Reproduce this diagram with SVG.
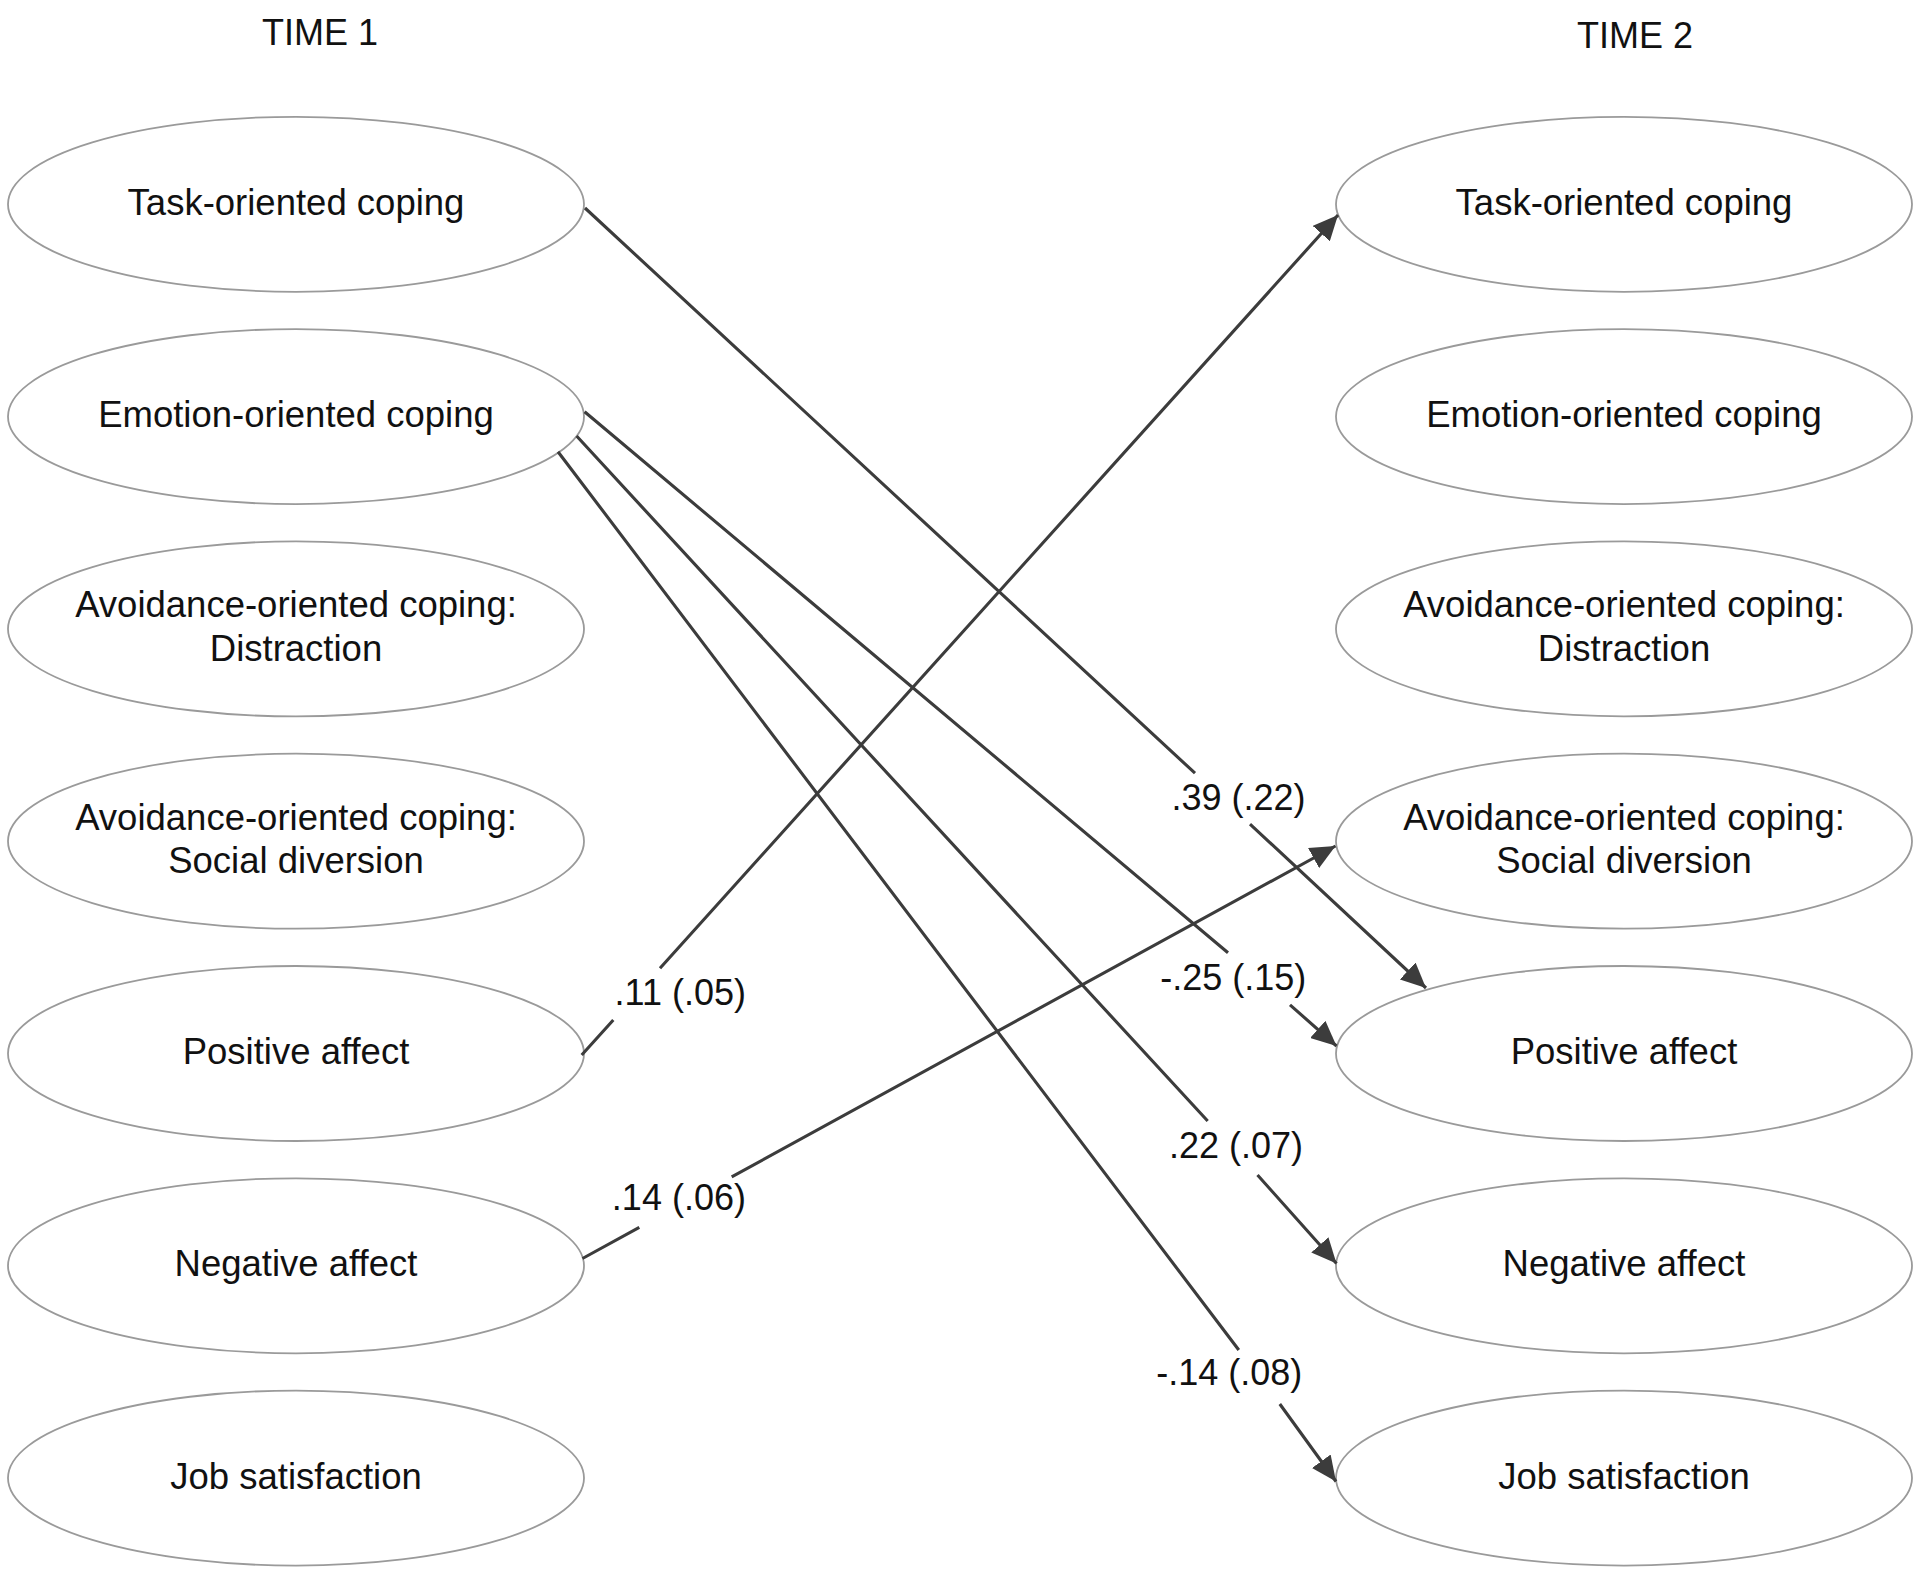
<svg xmlns="http://www.w3.org/2000/svg" width="1920" height="1574" viewBox="0 0 1920 1574">
<defs>
<style>
.node ellipse{fill:#ffffff;stroke:#9a9a9a;stroke-width:1.8}
.node text{font-family:"Liberation Sans",Arial,sans-serif;font-size:36.5px;fill:#111;text-anchor:middle}
.title{font-family:"Liberation Sans",Arial,sans-serif;font-size:36px;fill:#111;text-anchor:middle}
.edge{fill:none;stroke:#3c3c3c;stroke-width:3.1;marker-end:url(#arrow)}
.elabel{font-family:"Liberation Sans",Arial,sans-serif;font-size:36px;fill:#111;text-anchor:middle}
</style>
<marker id="arrow" markerUnits="userSpaceOnUse" viewBox="0 0 25 23" refX="25" refY="11.5" markerWidth="25" markerHeight="23" orient="auto">
<path d="M0,0 L25,11.5 L0,23 Z" fill="#3c3c3c"/>
</marker>
</defs>
<rect width="1920" height="1574" fill="#ffffff"/>
<text class="title" x="320" y="45">TIME 1</text>
<text class="title" x="1635" y="48">TIME 2</text>

<g id="t1-task" class="node"><ellipse cx="296" cy="204.3" rx="288" ry="87.5"/><text x="296" y="215">Task-oriented coping</text></g>
<g id="t1-emotion" class="node"><ellipse cx="296" cy="416.6" rx="288" ry="87.5"/><text x="296" y="427.3">Emotion-oriented coping</text></g>
<g id="t1-distraction" class="node"><ellipse cx="296" cy="628.9" rx="288" ry="87.5"/><text x="296" y="617.4">Avoidance-oriented coping:</text><text x="296" y="661">Distraction</text></g>
<g id="t1-social" class="node"><ellipse cx="296" cy="841.2" rx="288" ry="87.5"/><text x="296" y="829.7">Avoidance-oriented coping:</text><text x="296" y="873.3">Social diversion</text></g>
<g id="t1-positive" class="node"><ellipse cx="296" cy="1053.5" rx="288" ry="87.5"/><text x="296" y="1064">Positive affect</text></g>
<g id="t1-negative" class="node"><ellipse cx="296" cy="1265.8" rx="288" ry="87.5"/><text x="296" y="1276.3">Negative affect</text></g>
<g id="t1-job" class="node"><ellipse cx="296" cy="1478.1" rx="288" ry="87.5"/><text x="296" y="1488.6">Job satisfaction</text></g>

<g id="t2-task" class="node"><ellipse cx="1624" cy="204.3" rx="288" ry="87.5"/><text x="1624" y="215">Task-oriented coping</text></g>
<g id="t2-emotion" class="node"><ellipse cx="1624" cy="416.6" rx="288" ry="87.5"/><text x="1624" y="427.3">Emotion-oriented coping</text></g>
<g id="t2-distraction" class="node"><ellipse cx="1624" cy="628.9" rx="288" ry="87.5"/><text x="1624" y="617.4">Avoidance-oriented coping:</text><text x="1624" y="661">Distraction</text></g>
<g id="t2-social" class="node"><ellipse cx="1624" cy="841.2" rx="288" ry="87.5"/><text x="1624" y="829.7">Avoidance-oriented coping:</text><text x="1624" y="873.3">Social diversion</text></g>
<g id="t2-positive" class="node"><ellipse cx="1624" cy="1053.5" rx="288" ry="87.5"/><text x="1624" y="1064">Positive affect</text></g>
<g id="t2-negative" class="node"><ellipse cx="1624" cy="1265.8" rx="288" ry="87.5"/><text x="1624" y="1276.3">Negative affect</text></g>
<g id="t2-job" class="node"><ellipse cx="1624" cy="1478.1" rx="288" ry="87.5"/><text x="1624" y="1488.6">Job satisfaction</text></g>

<g id="connectors">
<path class="edge" d="M585,208 L1195,773.2 M1250,824.1 L1426,988"/>
<path class="edge" d="M584.6,411.7 L1228,952.7 M1290,1004.8 L1336.5,1046"/>
<path class="edge" d="M576.6,436 L1207.7,1121 M1257.5,1175 L1336.5,1263.5"/>
<path class="edge" d="M558,451.7 L1238.8,1350 M1279.8,1404 L1336,1481.5"/>
<path class="edge" d="M581.7,1055 L613.3,1020 M660,968.3 L1338,215"/>
<path class="edge" d="M582.5,1258.5 L639.3,1227.4 M731.7,1176.9 L1335.5,846"/>
<text class="elabel" x="1238.5" y="810">.39 (.22)</text>
<text class="elabel" x="1233.3" y="990">-.25 (.15)</text>
<text class="elabel" x="1236" y="1158">.22 (.07)</text>
<text class="elabel" x="1229.3" y="1385">-.14 (.08)</text>
<text class="elabel" x="680.3" y="1005">.11 (.05)</text>
<text class="elabel" x="678.9" y="1210">.14 (.06)</text>
</g>
</svg>
